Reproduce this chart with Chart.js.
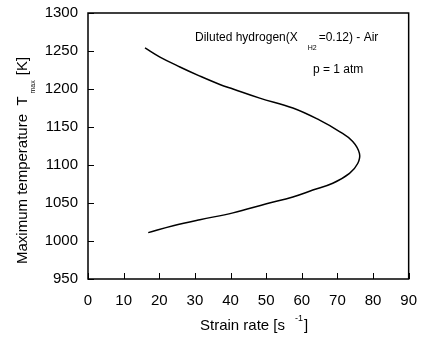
<!DOCTYPE html>
<html>
<head>
<meta charset="utf-8">
<script src="https://cdn.jsdelivr.net/npm/chart.js@4"></script>
<style>
  html, body { margin: 0; padding: 0; background: #fff; }
  #wrap { width: 422px; height: 337px; }
</style>
</head>
<body>
<div id="wrap"><canvas id="chart" width="422" height="337"></canvas></div>
<script>
// strain rate [1/s] along the curve, top branch then bottom branch
const strainRate = [16.0, 20.2, 25.8, 31.4, 37.0, 40.7, 48.2, 57.5, 65.0, 70.6, 74.3, 76.2, 75.7, 73.4, 68.7, 63.1, 57.5, 50.1, 40.7, 31.4, 23.9, 16.9];
const tMax = [1254, 1242, 1229, 1217, 1206, 1200, 1188, 1175, 1159, 1144, 1131, 1115, 1102, 1089, 1076, 1067, 1058, 1049, 1037, 1028, 1020, 1011];
const xTicks = [0, 10, 20, 30, 40, 50, 60, 70, 80, 90];
const yTicks = [950, 1000, 1050, 1100, 1150, 1200, 1250, 1300];

const FONT = "'Liberation Sans', Arial, Helvetica, sans-serif";

// рамка, внутренние засечки и подписи
const framePlugin = {
  id: "frame",
  afterDraw(chart) {
    const ctx = chart.ctx;
    const a = chart.chartArea;
    const xs = chart.scales.x, ys = chart.scales.y;
    ctx.save();
    ctx.strokeStyle = "#000";
    ctx.lineWidth = 1.5;
    ctx.strokeRect(a.left, a.top, a.right - a.left, a.bottom - a.top);
    ctx.lineWidth = 1;
    ctx.beginPath();
    xTicks.forEach(v => {
      const px = Math.round(xs.getPixelForValue(v)) + 0.5;
      ctx.moveTo(px, a.bottom);
      ctx.lineTo(px, a.bottom - 6);
    });
    yTicks.forEach(v => {
      const py = Math.round(ys.getPixelForValue(v)) + 0.5;
      ctx.moveTo(a.left, py);
      ctx.lineTo(a.left + 6, py);
    });
    ctx.stroke();

    ctx.fillStyle = "#000";
    ctx.textBaseline = "alphabetic";
    // подпись внутри графика
    ctx.font = "12px " + FONT;
    let x = 195;
    ctx.fillText("Diluted hydrogen(X", x, 41);
    x += ctx.measureText("Diluted hydrogen(X").width + 10;
    ctx.font = "7px " + FONT;
    ctx.fillText("H2", x, 50);
    x += ctx.measureText("H2").width + 2;
    ctx.font = "12px " + FONT;
    ctx.fillText("=0.12) - Air", x, 41);
    ctx.fillText("p = 1 atm", 313, 73);

    // ось X
    ctx.font = "15px " + FONT;
    x = 200;
    ctx.fillText("Strain rate [s", x, 330);
    x += ctx.measureText("Strain rate [s").width + 10;
    ctx.font = "9px " + FONT;
    ctx.fillText("-1", x, 321);
    x += ctx.measureText("-1").width + 1;
    ctx.font = "15px " + FONT;
    ctx.fillText("]", x, 330);

    // ось Y
    ctx.translate(27, 0);
    ctx.rotate(-Math.PI / 2);
    let y = -264;
    ctx.font = "15px " + FONT;
    ctx.fillText("Maximum temperature  T", y, 0);
    y += ctx.measureText("Maximum temperature  T").width + 3;
    ctx.font = "7px " + FONT;
    ctx.fillText("max", y, 8);
    y += ctx.measureText("max").width + 5;
    ctx.font = "15px " + FONT;
    ctx.fillText("[K]", y, 0);
    ctx.restore();
  }
};

new Chart(document.getElementById("chart").getContext("2d"), {
  type: "scatter",
  data: {
    datasets: [{
      data: strainRate.map((v, i) => ({ x: v, y: tMax[i] })),
      showLine: true,
      borderColor: "#000",
      borderWidth: 1.5,
      pointRadius: 0,
      tension: 0.4,
      fill: false
    }]
  },
  options: {
    responsive: false,
    animation: false,
    layout: { padding: { left: 0, right: 13, top: 13, bottom: 0 } },
    plugins: { legend: { display: false }, tooltip: { enabled: false } },
    scales: {
      x: {
        type: "linear", min: 0, max: 90,
        afterBuildTicks: s => { s.ticks = xTicks.map(v => ({ value: v })); },
        afterFit: s => { s.height = 58; },
        grid: { display: false },
        border: { display: false },
        ticks: { color: "#000", font: { family: FONT, size: 15 }, padding: 5, callback: v => String(v) }
      },
      y: {
        type: "linear", min: 950, max: 1300,
        afterBuildTicks: s => { s.ticks = yTicks.map(v => ({ value: v })); },
        afterFit: s => { s.width = 88; },
        grid: { display: false },
        border: { display: false },
        ticks: { color: "#000", font: { family: FONT, size: 15 }, padding: 2, callback: v => String(v) }
      }
    }
  },
  plugins: [framePlugin]
});
</script>
</body>
</html>
